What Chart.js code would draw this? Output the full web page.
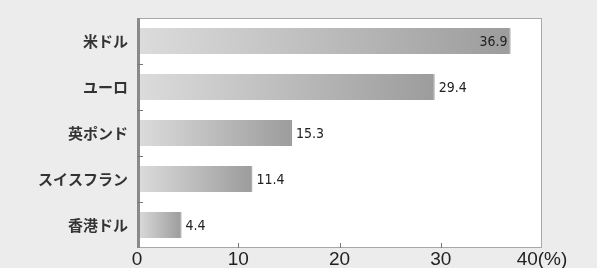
<!DOCTYPE html>
<html>
<head>
<meta charset="utf-8">
<script src="https://cdn.jsdelivr.net/npm/chart.js@4"></script>
<style>
  html, body { margin: 0; padding: 0; background: #ececec; }
  #wrap { width: 597px; height: 268px; position: relative; }
</style>
</head>
<body>
<div id="wrap"><canvas id="fxChart" width="597" height="268"></canvas></div>
<script>
// categories and values
const currencies = ["米ドル", "ユーロ", "英ポンド", "スイスフラン", "香港ドル"];
const shares = [36.9, 29.4, 15.3, 11.4, 4.4];
const xTicks = [0, 10, 20, 30, 40];
const unitLabel = "(%)";

const fontJP = "'Noto Sans CJK JP', 'Noto Sans', sans-serif";

// gradient per bar, light on the left to darker at the bar end
function barGradient(context) {
  const chart = context.chart;
  if (!chart.chartArea || context.dataIndex === undefined) return "#bbb";
  const x = chart.scales.x;
  const x0 = x.getPixelForValue(0);
  const x1 = x.getPixelForValue(shares[context.dataIndex]);
  const g = chart.ctx.createLinearGradient(x0, 0, x1, 0);
  g.addColorStop(0, "#dcdcdc");
  g.addColorStop(1, "#9c9c9c");
  return g;
}

// value labels: inside for the long bar, outside for others
const valueLabels = {
  id: "valueLabels",
  afterDatasetsDraw(chart) {
    const ctx = chart.ctx;
    const meta = chart.getDatasetMeta(0);
    ctx.save();
    ctx.font = "14px 'Liberation Sans Narrow', 'DejaVu Sans Condensed', sans-serif";
    ctx.fillStyle = "#222";
    ctx.textBaseline = "middle";
    meta.data.forEach((bar, i) => {
      const v = shares[i];
      if (v > 35) {
        ctx.textAlign = "right";
        ctx.fillText(v.toFixed(1), bar.x - 3, bar.y + 1);
      } else {
        ctx.textAlign = "left";
        ctx.fillText(v.toFixed(1), bar.x + 4, bar.y + 1);
      }
    });
    ctx.restore();
  }
};

// frame and small inner tick marks
const frame = {
  id: "frame",
  beforeDraw(chart) {
    const { ctx, chartArea: a } = chart;
    ctx.save();
    ctx.fillStyle = "#ffffff";
    ctx.fillRect(a.left, a.top, a.right - a.left, a.bottom - a.top);
    ctx.restore();
  },
  afterDraw(chart) {
    const { ctx, chartArea: a, scales } = chart;
    ctx.save();
    ctx.strokeStyle = "#a8a8a8";
    ctx.lineWidth = 1;
    ctx.strokeRect(a.left + 0.5, a.top + 0.5, a.right - a.left - 1, a.bottom - a.top - 1);
    ctx.strokeStyle = "#8a8a8a";
    ctx.lineWidth = 3;
    ctx.beginPath();
    ctx.moveTo(a.left + 1.5, a.top);
    ctx.lineTo(a.left + 1.5, a.bottom);
    ctx.stroke();
    ctx.lineWidth = 1;
    ctx.strokeStyle = "#777";
    ctx.beginPath();
    xTicks.slice(1, -1).forEach(t => {
      const px = Math.round(scales.x.getPixelForValue(t)) + 0.5;
      ctx.moveTo(px, a.bottom);
      ctx.lineTo(px, a.bottom - 5);
    });
    for (let i = 0; i < currencies.length - 1; i++) {
      const py = Math.round((scales.y.getPixelForValue(i) + scales.y.getPixelForValue(i + 1)) / 2) + 0.5;
      ctx.moveTo(a.left, py);
      ctx.lineTo(a.left + 6, py);
    }
    ctx.stroke();
    ctx.restore();
  }
};

new Chart(document.getElementById("fxChart"), {
  type: "bar",
  data: {
    labels: currencies,
    datasets: [{
      data: shares,
      backgroundColor: barGradient,
      borderColor: "#8e8e8e",
      borderWidth: { right: 1, top: 0, bottom: 0, left: 0 },
      borderSkipped: false,
      categoryPercentage: 0.57,
      barPercentage: 1
    }]
  },
  options: {
    indexAxis: "y",
    responsive: false,
    animation: false,
    layout: { padding: { top: 17, right: 55, left: 0, bottom: 0 } },
    plugins: {
      legend: { display: false },
      tooltip: { enabled: false }
    },
    scales: {
      x: {
        min: 0,
        max: 40,
        afterBuildTicks: axis => { axis.ticks = xTicks.map(v => ({ value: v })); },
        afterFit: axis => { axis.height = 20; },
        grid: { display: false, drawTicks: false },
        border: { display: false },
        ticks: {
          padding: 0,
          color: "#222",
          font: { family: "'Liberation Sans', sans-serif", size: 19 },
          maxRotation: 0,
          callback: v => v === 40 ? v + unitLabel : String(v)
        }
      },
      y: {
        afterFit: axis => { axis.width = 137; },
        grid: { display: false, drawTicks: false },
        border: { display: false },
        ticks: {
          padding: 9,
          color: "#333",
          font: { family: fontJP, size: 15, weight: "bold" }
        }
      }
    }
  },
  plugins: [frame, valueLabels]
});
</script>
</body>
</html>
